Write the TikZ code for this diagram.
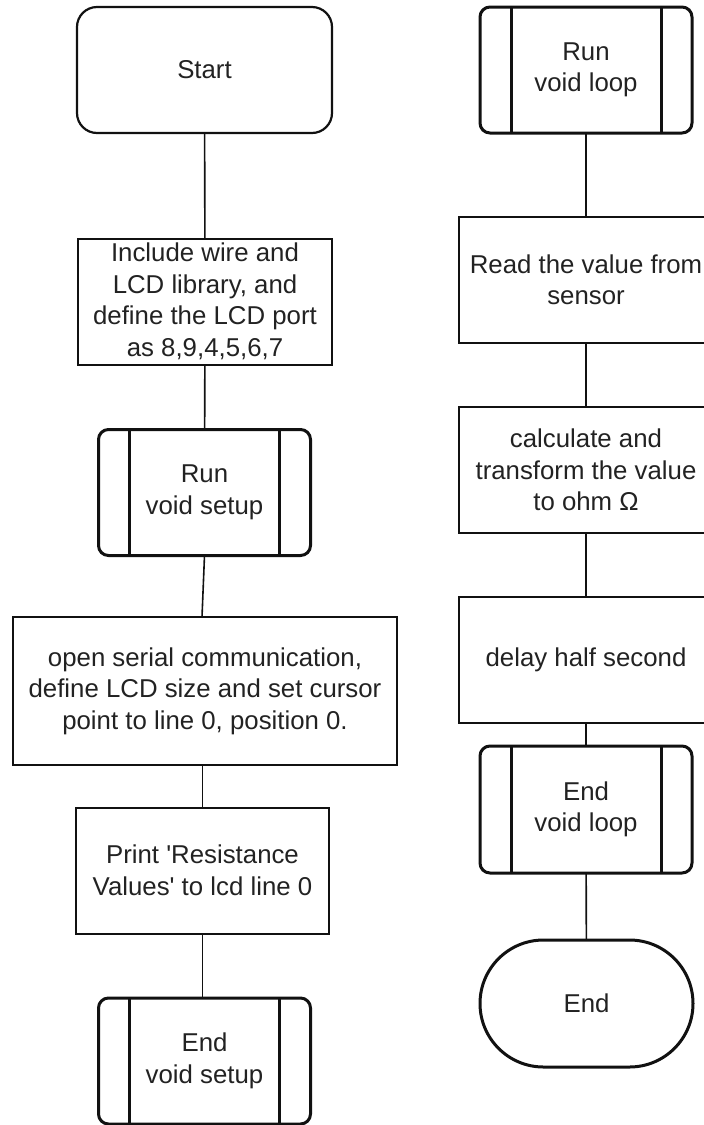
\documentclass[tikz,border=0pt]{standalone}
\usepackage{fontspec}
\setmainfont{Liberation Sans}
\usetikzlibrary{shapes.misc}
\definecolor{ln}{HTML}{111111}
\definecolor{txt}{HTML}{222222}
\begin{document}
\begin{tikzpicture}[x=1pt,y=-1pt,
  every node/.style={font=\fontsize{25.8}{31.5}\selectfont, text=txt, align=center, inner sep=0pt, outer sep=0pt},
  proc/.style={draw=ln, line width=2pt, minimum width=254pt, minimum height=126pt},
  sub/.style={draw=ln, line width=3pt, rounded corners=10pt, minimum width=212pt, minimum height=126pt},
  term/.style={draw=ln, line width=2.2pt, rounded corners=20pt, minimum width=255pt, minimum height=126pt},
  stad/.style={draw=ln, line width=3pt, rounded rectangle, minimum width=213pt, minimum height=127pt},
  conn/.style={draw=ln, line width=1.6pt}]
\useasboundingbox (0,0) rectangle (704,1125);
\clip (0,0) rectangle (704,1125);
% left column
\node[term] (start) at (204.5,70) {Start};
\node[proc] (incl) at (205,301.5) {Include wire and\\LCD library, and\\define the LCD port\\as 8,9,4,5,6,7};
\node[sub] (runS) at (204.5,492.5) {Run\\void setup};
\node[proc, minimum width=384pt, minimum height=148pt] (open) at (205,691) {open serial communication,\\define LCD size and set cursor\\point to line 0, position 0.};
\node[proc, minimum width=253pt] (print) at (202.5,870.5) {Print \textquotesingle Resistance\\Values\textquotesingle{} to lcd line 0};
\node[sub] (endS) at (204.5,1061) {End\\void setup};
% right column
\node[sub] (runL) at (586,70) {Run\\void loop};
\node[proc] (read) at (586,280) {Read the value from\\sensor};
\node[proc] (calc) at (586,470) {calculate and\\transform the value\\to ohm Ω};
\node[proc] (delay) at (586,660) {delay half second};
\node[sub, minimum height=127pt] (endL) at (586,809.5) {End\\void loop};
\node[stad] (end) at (586.5,1003.5) {End};
% subroutine side bars
\foreach \n in {runS,endS,runL,endL}{
  \draw[ln, line width=3pt] ([xshift=31pt]\n.north west) -- ([xshift=31pt]\n.south west);
  \draw[ln, line width=3pt] ([xshift=-31pt]\n.north east) -- ([xshift=-31pt]\n.south east);
}
% connectors
\draw[conn] (start) -- (incl);
\draw[conn] (incl) -- (runS);
\draw[conn] (runS.south) -- ([xshift=-3pt]open.north);
\draw[conn] (print.north |- open.south) -- (print.north);
\draw[conn] (print.south) -- (print.south |- endS.north);
\draw[conn] (runL) -- (read);
\draw[conn] (read) -- (calc);
\draw[conn] (calc) -- (delay);
\draw[conn] (delay) -- (endL);
\draw[conn] (endL) -- (end);
\end{tikzpicture}
\end{document}
